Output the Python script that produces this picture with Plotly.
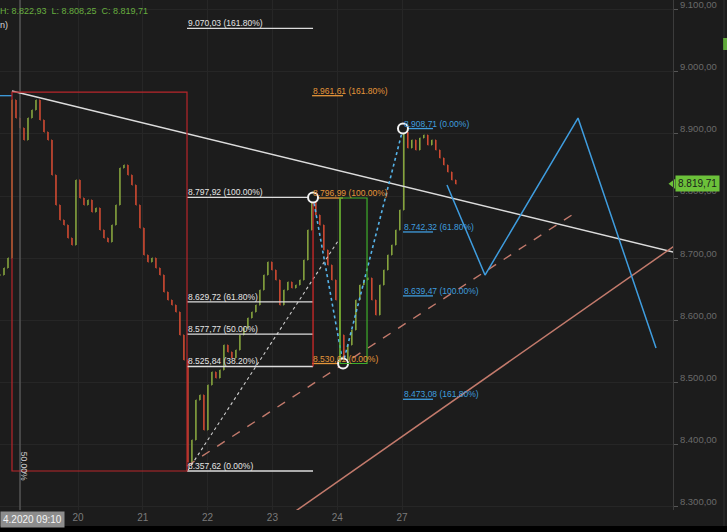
import plotly.graph_objects as go

# ---------------- axes data ----------------
day_ticks = [1, 2, 3, 4, 5, 6]
day_labels = ["20", "21", "22", "23", "24", "27"]
price_ticks = [8300, 8400, 8500, 8600, 8700, 8800, 8900, 9000, 9100]
x_range = [-0.204, 10.182]
y_range = [8294.9, 9115.6]

# ---------------- price bars (closes) ----------------
bar_start = -0.204      # session time of first visible bar (days)
bar_step = 0.0617       # bar interval (days)
closes = [
    8673.0, 8684.3, 8700.4, 8954.7, 8925.7, 8909.6, 8890.3, 8925.7, 8938.6, 8954.7,
    8922.5, 8903.2, 8890.3, 8834.0, 8785.7, 8761.6, 8753.5, 8732.6, 8721.3, 8825.9,
    8797.0, 8785.7, 8793.7, 8774.4, 8780.9, 8745.5, 8732.6, 8726.1, 8753.5, 8785.7,
    8845.2, 8850.1, 8834.0, 8817.9, 8785.7, 8748.7, 8705.2, 8694.0, 8700.4, 8684.3,
    8673.0, 8645.7, 8632.8, 8624.8, 8613.5, 8576.5, 8536.3, 8372.1, 8407.5, 8471.9,
    8479.9, 8423.6, 8496.0, 8516.9, 8507.3, 8520.2, 8560.4, 8549.1, 8539.5, 8552.3,
    8576.5, 8587.7, 8603.8, 8613.5, 8624.8, 8648.9, 8673.0, 8694.0, 8681.1, 8665.0,
    8624.8, 8648.9, 8661.8, 8652.1, 8656.9, 8665.0, 8697.2, 8745.5, 8790.5, 8769.6,
    8753.5, 8713.3, 8689.1, 8665.0, 8632.8, 8576.5, 8536.3, 8560.4, 8584.5, 8632.8,
    8656.9, 8665.0, 8668.2, 8632.8, 8608.7, 8656.9, 8681.1, 8705.2, 8721.3, 8745.5,
    8777.6, 8903.2, 8877.4, 8890.3, 8874.2, 8893.5, 8898.3, 8882.3, 8890.3, 8874.2,
    8861.3, 8850.1, 8838.8, 8825.9, 8819.7,
]
header_text = "H: 8.822,93  L: 8.808,25  C: 8.819,71"
last_price = 8819.71
last_price_text = "8.819,71"
cursor_label = "4.2020 09:10"

# ---------------- drawings ----------------
fib1_x = [2.682, 4.627]
fib1_levels = [9070.03, 8797.92, 8629.72, 8577.77, 8525.84, 8357.62]
fib1_labels = ["9.070,03 (161.80%)", "8.797,92 (100.00%)", "8.629,72 (61.80%)",
               "8.577,77 (50.00%)", "8.525,84 (38.20%)", "8.357,62 (0.00%)"]
fib2_x = [4.612, 5.090]
fib2_levels = [8961.61, 8796.99, 8530.61]
fib2_labels = ["8.961,61 (161.80%)", "8.796,99 (100.00%)", "8.530,61 (0.00%)"]
fib3_x = [6.015, 6.478]
fib3_levels = [8908.71, 8742.32, 8639.47, 8473.08]
fib3_labels = ["8.908,71 (0.00%)", "8.742,32 (61.80%)", "8.639,47 (100.00%)", "8.473,08 (161.80%)"]

pivot_x = [4.627, 5.090, 6.015]
pivot_y = [8797.92, 8530.61, 8908.71]
proj_x = [6.694, 7.281, 8.716, 9.920]
proj_y = [8817.9, 8673.0, 8925.7, 8555.6]
resist_x, resist_y = [-0.019, 10.5], [8969.2, 8702.0]
support_x, support_y = [4.0, 10.5], [8267.0, 8741.5]
channel_x, channel_y = [2.682, 8.716], [8365.7, 8776.0]
fan_x, fan_y = [2.698, 5.012], [8359.0, 8727.8]
box_x, box_y = [-0.019, 2.682], [8357.62, 8967.5]
green_box_x, green_box_y = [5.043, 5.460], [8530.61, 8796.99]
yellow_x, yellow_y = 5.043, [8530.61, 8796.99]
red_v_x, red_v_y = 4.627, [8525.84, 8797.92]
cursor_x = 0.105
cursor_pct_y = 8366.0
blue_stub_x, blue_stub_y = [-0.3, -0.019], 8961.61

# ---------------- colours ----------------
BG = "#1c1c1c"
GRID = "#262626"
WHITE = "#dcdcdc"
ORANGE = "#e5963a"
BLUE = "#3f9ddf"
RED = "#b8262b"
SALMON = "#c37a6c"
GREEN_UP = "#86a43e"
RED_DN = "#cf4a32"
FONT = "Liberation Sans, Arial, sans-serif"

fig = go.Figure()

bar_x = [bar_start + i * bar_step for i in range(len(closes))]
opens = [closes[0]] + closes[:-1]
highs = [max(o, c) for o, c in zip(opens, closes)]
lows = [min(o, c) for o, c in zip(opens, closes)]
fig.add_trace(go.Ohlc(
    x=bar_x, open=opens, high=highs, low=lows, close=closes,
    increasing=dict(line=dict(color=GREEN_UP, width=1.6)),
    decreasing=dict(line=dict(color=RED_DN, width=1.6)),
    tickwidth=0.15, hoverinfo="skip", showlegend=False))

def line(x, y, color, width=1.3, dash="solid"):
    fig.add_trace(go.Scatter(x=x, y=y, mode="lines", hoverinfo="skip", showlegend=False,
                             line=dict(color=color, width=width, dash=dash)))

fig.add_shape(type="rect", xref="x", yref="y", x0=box_x[0], x1=box_x[1], y0=box_y[0], y1=box_y[1],
              line=dict(color=RED, width=1.2), fillcolor="rgba(0,0,0,0)", layer="above")
fig.add_shape(type="rect", xref="x", yref="y", x0=green_box_x[0], x1=green_box_x[1],
              y0=green_box_y[0], y1=green_box_y[1], line=dict(color="#3fae2c", width=1.2), layer="above")

line([cursor_x, cursor_x], y_range, "#555555", 1.5)

line(resist_x, resist_y, WHITE, 1.5)
line(support_x, support_y, SALMON, 1.5)
line(channel_x, channel_y, SALMON, 1.4, "dash")
line(fan_x, fan_y, "#cfcfcf", 1.1, "dot")
line(blue_stub_x, [blue_stub_y, blue_stub_y], BLUE, 1.3)

for lv in fib1_levels:
    line(fib1_x, [lv, lv], WHITE, 1.3)
for lv in fib2_levels:
    line(fib2_x, [lv, lv], ORANGE, 1.3)
for lv in fib3_levels:
    line(fib3_x, [lv, lv], BLUE, 1.3)

line([red_v_x, red_v_x], red_v_y, "#d02a2a", 1.3)
line([yellow_x, yellow_x], yellow_y, "#c9b23a", 1.3)

line(proj_x, proj_y, BLUE, 1.5)
line(pivot_x, pivot_y, "#56b4ea", 1.6, "dot")
fig.add_trace(go.Scatter(x=pivot_x, y=pivot_y, mode="markers", hoverinfo="skip", showlegend=False,
                         marker=dict(size=10, color=BG, line=dict(color="#f2f2f2", width=2))))

fig.add_trace(go.Scatter(x=[x_range[1]], y=[last_price], mode="markers", cliponaxis=False,
                         hoverinfo="skip", showlegend=False,
                         marker=dict(symbol="triangle-left", size=9, color="#6cc13a")))

ann = []
def label(x, y, text, color):
    ann.append(dict(x=x, y=y, xref="x", yref="y", text=text, showarrow=False,
                    xanchor="left", yanchor="bottom", yshift=-2, xshift=-1,
                    font=dict(size=8.5, color=color, family=FONT)))

for lv, t in zip(fib1_levels, fib1_labels):
    label(fib1_x[0], lv, t, "#e4e4e4")
for lv, t in zip(fib2_levels, fib2_labels):
    label(fib2_x[0], lv, t, ORANGE)
for lv, t in zip(fib3_levels, fib3_labels):
    label(fib3_x[0], lv, t, BLUE)

ann.append(dict(x=0, y=1, xref="paper", yref="paper", xanchor="left", yanchor="top", yshift=-4, xshift=-2,
                text=header_text, showarrow=False, font=dict(size=9, color="#67ad3f", family=FONT)))
ann.append(dict(x=0, y=1, xref="paper", yref="paper", xanchor="left", yanchor="top", yshift=-18, xshift=-2,
                text="n)", showarrow=False, font=dict(size=9, color="#d8d8d8", family=FONT)))
ann.append(dict(x=cursor_x, y=cursor_pct_y, xref="x", yref="y", xshift=4, text="50.00%", textangle=90,
                showarrow=False, font=dict(size=8.5, color="#c8c8c8", family=FONT)))
ann.append(dict(x=0, y=0, xref="paper", yref="paper", xanchor="left", yanchor="top", yshift=-1,
                text=cursor_label, showarrow=False, bgcolor="#8d8d8d", borderpad=2,
                font=dict(size=10, color="#f4f4f4", family=FONT)))
ann.append(dict(x=1, y=last_price, xref="paper", yref="y", xanchor="left", xshift=2,
                text=last_price_text, showarrow=False, bgcolor="#6cc13a", borderpad=2,
                font=dict(size=10, color="#1a1a1a", family=FONT)))

shapes = [
    dict(type="rect", xref="paper", yref="paper", x0=-0.01, x1=1.1, y0=-0.07, y1=-0.0314,
         fillcolor="#000000", line=dict(width=0)),
    dict(type="line", xref="paper", yref="paper", x0=1.0758, x1=1.0758, y0=-0.0314, y1=1,
         line=dict(color="#2e2e2e", width=1)),
    dict(type="rect", xref="paper", yref="paper", x0=1.0745, x1=1.085, y0=0.902, y1=0.9255,
         fillcolor="#5fa83a", line=dict(width=0)),
]

fig.update_layout(
    width=727, height=532,
    margin=dict(l=0, r=54, t=0, b=22),
    paper_bgcolor=BG, plot_bgcolor=BG,
    separators=",.",
    font=dict(family=FONT, color="#7a7a7a"),
    showlegend=False,
    annotations=ann,
    shapes=list(fig.layout.shapes) + shapes,
    xaxis=dict(range=x_range, tickvals=day_ticks, ticktext=day_labels, showgrid=True,
               gridcolor=GRID, zeroline=False, showline=False, ticks="",
               tickfont=dict(size=10, color="#7a7a7a"), rangeslider=dict(visible=False),
               fixedrange=True),
    yaxis=dict(range=y_range, side="right", tickvals=price_ticks, tickformat=",.2f",
               showgrid=True, gridcolor=GRID, zeroline=False, showline=True, linecolor="#3c3c3c",
               ticks="outside", ticklen=4, tickcolor="#555555", ticklabelshift=-5,
               ticklabeloverflow="allow",
               tickfont=dict(size=9.5, color="#6a6a6a"), fixedrange=True),
)

fig.write_html("out.html", config={"displayModeBar": False},
               post_script="document.body.style.margin='0';document.body.style.background='#1c1c1c';")
